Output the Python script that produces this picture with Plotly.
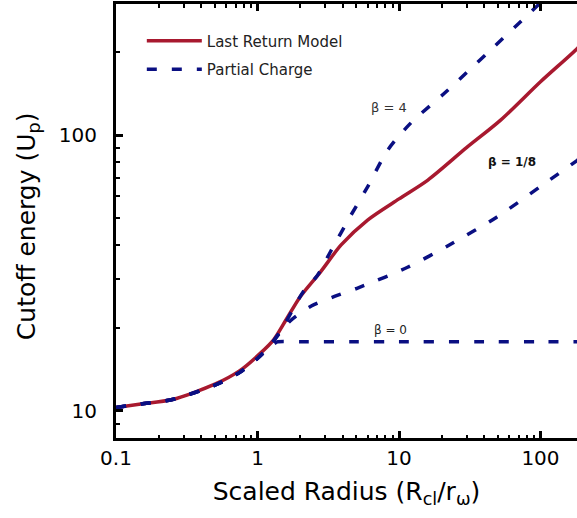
import math
import plotly.graph_objects as go

# ---- data ----
lrm_x = [0.1, 0.15, 0.25, 0.5, 0.75, 1.05, 1.3, 1.6, 2.0, 2.8, 3.9, 6.0, 10, 16, 30, 52, 100, 182, 200]
lrm_y = [10.3, 10.6, 11.0, 12.5, 14.0, 16.2, 18.1, 21.5, 25.9, 32.0, 40.0, 49.2, 58.7, 68.7, 90, 113, 156, 206, 218]

b0_x = [0.1, 0.15, 0.25, 0.5, 0.75, 1.0, 1.2, 1.38, 2, 5, 10, 50, 100, 200]
b0_y = [10.3, 10.6, 11.0, 12.4, 13.8, 15.5, 17.0, 17.8, 17.8, 17.8, 17.8, 17.8, 17.8, 17.8]

b18_x = [0.1, 0.15, 0.25, 0.5, 0.75, 1.0, 1.2, 1.35, 1.7, 2.4, 3.5, 5.2, 11.4, 24, 49, 99, 182, 200]
b18_y = [10.3, 10.6, 11.0, 12.4, 13.8, 15.5, 17.0, 18.4, 21.2, 24.0, 26.0, 28.0, 33.1, 40.6, 50.4, 64.9, 81, 84]

b4_x = [0.1, 0.15, 0.25, 0.5, 0.75, 1.0, 1.2, 1.5, 2.1, 2.65, 3.3, 4.5, 6.0, 8.3, 12, 22, 42, 81, 120]
b4_y = [10.3, 10.6, 11.0, 12.4, 13.8, 15.5, 17.0, 20.0, 27.0, 31.0, 38.0, 50.5, 64.9, 88, 110, 145, 198, 272, 330]

x_ticks = [0.1, 1, 10, 100]
x_ticktext = ["0.1", "1", "10", "100"]
y_ticks = [10, 100]
y_ticktext = ["10", "100"]
x_minor = [0.2, 0.3, 0.4, 0.5, 0.6, 0.7, 0.8, 0.9, 2, 3, 4, 5, 6, 7, 8, 9,
           20, 30, 40, 50, 60, 70, 80, 90, 200]
y_minor = [8, 9, 20, 30, 40, 50, 60, 70, 80, 90, 200, 300]

labels = ["β = 4", "β = 1/8", "β = 0"]
label_x = [8.45, 63.4, 8.7]
label_y = [126, 80, 19.6]

RED = "#a8192f"
BLUE = "#0a0f82"
FONT = "DejaVu Sans"
X_RANGE = [-1, 2.258]
Y_RANGE = [0.902, 2.475]

fig = go.Figure()
fig.add_trace(go.Scatter(x=lrm_x, y=lrm_y, mode="lines", name="Last Return Model",
                         line=dict(color=RED, width=3.5, shape="spline", smoothing=0.8),
                         legendgroup="a"))
fig.add_trace(go.Scatter(x=b0_x, y=b0_y, mode="lines", name="Partial Charge",
                         line=dict(color=BLUE, width=3.5, dash="10px,15px", shape="spline", smoothing=0.4),
                         legendgroup="b"))
fig.add_trace(go.Scatter(x=b18_x, y=b18_y, mode="lines", name="Partial Charge",
                         line=dict(color=BLUE, width=3.5, dash="10px,15px", shape="spline", smoothing=0.8),
                         showlegend=False, legendgroup="b"))
fig.add_trace(go.Scatter(x=b4_x, y=b4_y, mode="lines", name="Partial Charge",
                         line=dict(color=BLUE, width=3.5, dash="10px,15px", shape="spline", smoothing=0.8),
                         showlegend=False, legendgroup="b"))
# empty traces so that the minor-tick overlay axes get drawn
fig.add_trace(go.Scatter(x=[], y=[], xaxis="x2", yaxis="y2", showlegend=False, hoverinfo="skip"))
fig.add_trace(go.Scatter(x=[], y=[], xaxis="x3", yaxis="y2", showlegend=False, hoverinfo="skip"))

styles = [dict(size=13, color="#333333"), dict(size=12, color="#111111"), dict(size=12, color="#222222")]
for i, t in enumerate(labels):
    txt = "<b>" + t + "</b>" if i == 1 else t
    fig.add_annotation(x=math.log10(label_x[i]), y=math.log10(label_y[i]), xref="x", yref="y",
                       text=txt, showarrow=False, font=dict(family=FONT, **styles[i]))

fig.add_annotation(x=-0.191, y=0.488, xref="paper", yref="paper", textangle=-90,
                   xanchor="center", yanchor="middle",
                   text="Cutoff energy (U<sub>p</sub>)", showarrow=False,
                   font=dict(family=FONT, size=25, color="black"))

minor_common = dict(type="log", range=X_RANGE, overlaying="x", anchor="y2",
                    tickvals=x_minor, showticklabels=False, ticks="inside", ticklen=3.5,
                    tickwidth=2, tickcolor="black", showline=False,
                    showgrid=False, zeroline=False)

fig.update_layout(
    width=577, height=518, margin=dict(l=116, r=0, t=4, b=80),
    paper_bgcolor="white", plot_bgcolor="white",
    font=dict(family=FONT, color="black"),
    xaxis=dict(type="log", range=X_RANGE, tickvals=x_ticks, ticktext=x_ticktext,
               ticks="inside", ticklen=7, tickwidth=2.5, tickcolor="black",
               showline=True, linewidth=3, linecolor="black", mirror="ticks",
               showgrid=False, zeroline=False,
               tickfont=dict(family=FONT, size=20, color="black"),
               title=dict(text="Scaled Radius (R<sub>cl</sub>/r<sub>ω</sub>)", standoff=14,
                          font=dict(family=FONT, size=25, color="black"))),
    yaxis=dict(type="log", range=Y_RANGE, tickvals=y_ticks, ticktext=y_ticktext,
               ticks="inside", ticklen=7, tickwidth=2.5, tickcolor="black",
               showline=True, linewidth=3, linecolor="black", mirror=False,
               showgrid=False, zeroline=False, ticklabelstandoff=12,
               tickfont=dict(family=FONT, size=20, color="black")),
    xaxis2=dict(side="bottom", **minor_common),
    xaxis3=dict(side="top", **minor_common),
    yaxis2=dict(type="log", range=Y_RANGE, overlaying="y", anchor="x2", side="left",
                tickvals=y_minor, showticklabels=False, ticks="inside", ticklen=3.5,
                tickwidth=2, tickcolor="black", showline=False,
                showgrid=False, zeroline=False),
    legend=dict(x=0.056, y=0.953, xanchor="left", yanchor="top",
                bgcolor="rgba(0,0,0,0)", font=dict(family=FONT, size=15, color="#222222"),
                tracegroupgap=6, itemwidth=55),
)

fig.write_html("out.html")
